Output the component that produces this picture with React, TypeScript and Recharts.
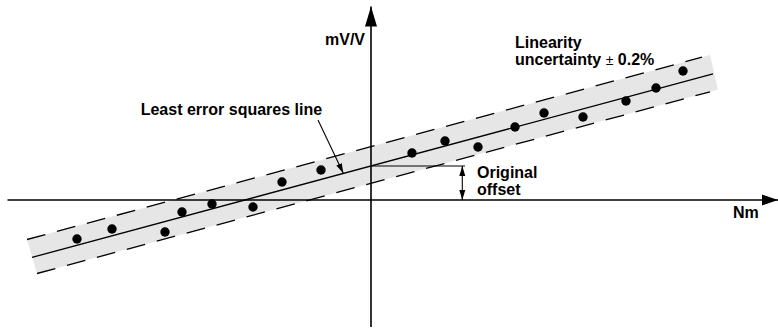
import React from "react";
import { ComposedChart, XAxis, YAxis, Line, Area, Scatter } from "recharts";

// Measured points (Nm vs mV/V, arbitrary units)
const pointX = [-29.4, -25.9, -20.6, -18.9, -15.9, -11.8, -8.9, -5.0, 4.1, 7.4, 10.7, 14.4, 17.3, 21.2, 25.5, 28.5, 31.2];
const pointY = [-3.9, -2.9, -3.2, -1.2, -0.4, -0.7, 1.8, 3.0, 4.7, 5.9, 5.3, 7.3, 8.7, 8.3, 9.9, 11.2, 12.9];

// Least error squares line
const fitX = [-33.9, 34.2];
const fitY = [-5.74, 12.62];

// Linearity uncertainty limits
const upperX = [-34.4, 33.1];
const upperY = [-3.95, 14.28];
const lowerX = [-33.4, 33.9];
const lowerY = [-7.35, 10.82];

// Uncertainty band (range)
const bandX = [-34.4, -33.4, 33.9, 34.7];
const bandLow = [-3.95, -7.35, 10.82, 11.04];
const bandHigh = [-3.95, -3.68, 14.49, 11.04];

// Axes
const xAxisX = [-36.35, 40.7];
const xAxisY = [0, 0];
const yAxisX = [0, 0];
const yAxisY = [-12.7, 19.35];

// Leader / offset lines
const leaderX = [-5.3, -2.77];
const leaderY = [8.0, 2.67];
const offsetLineX = [0, 9.4];
const offsetLineY = [3.4, 3.4];
const offsetArrowX = [9.13, 9.13];
const offsetArrowY = [3.4, 0];

// Annotations
const labelTexts = ["mV/V", "Linearity", "uncertainty ± 0.2%", "Least error squares line", "Original", "offset", "Nm"];
const labelX = [-0.6, 14.4, 14.4, -23.03, 10.6, 10.6, 36.2];
const labelY = [15.5, 15.2, 13.55, 8.5, 2.2, 0.5, -1.8];
const labelAnchor = ["end", "start", "start", "start", "start", "start", "start"];

const pts = (xs: number[], ys: number[]) => xs.map((x, i) => ({ x, y: ys[i] }));
const pointData = pts(pointX, pointY);
const bandData = bandX.map((x, i) => ({ x, range: [bandLow[i], bandHigh[i]] }));
const labelData = labelTexts.map((t, i) => ({ x: labelX[i], y: labelY[i], text: t, anchor: labelAnchor[i] }));

const FONT = "'Liberation Sans', Arial, Helvetica, sans-serif";

const renderLabel = (p: any) => {
  const payload = p.payload || {};
  const text: string = payload.text || "";
  if (text.includes("±")) {
    const [a, b] = text.split("±");
    return (
      <text x={p.cx} y={p.cy} textAnchor={payload.anchor} fontFamily={FONT} fontWeight="bold" fontSize={16} fill="#000">
        {a}
        <tspan fontWeight="normal" fontSize={14}>±</tspan>
        {b}
      </text>
    );
  }
  return (
    <text x={p.cx} y={p.cy} textAnchor={payload.anchor} fontFamily={FONT} fontWeight="bold" fontSize={16} fill="#000">
      {text}
    </text>
  );
};

const renderDot = (p: any) => <circle cx={p.cx} cy={p.cy} r={4.7} fill="#000" />;

export default function App() {
  return (
    <div style={{ position: "absolute", left: 0, top: 0, width: 778, height: 329, background: "#fff" }}>
      <svg width={0} height={0} style={{ position: "absolute" }}>
        <defs>
          <marker id="axisArrowX" markerUnits="userSpaceOnUse" markerWidth={17} markerHeight={12} refX={16} refY={6} orient="auto">
            <path d="M0,0.5 L16,6 L0,11.5 Z" fill="#000" />
          </marker>
          <marker id="axisArrowY" markerUnits="userSpaceOnUse" markerWidth={21} markerHeight={13} refX={20} refY={6.5} orient="auto">
            <path d="M0,0.5 L20,6.5 L0,12.5 Z" fill="#000" />
          </marker>
          <marker id="smallArrow" markerUnits="userSpaceOnUse" markerWidth={11} markerHeight={7} refX={10} refY={3.5} orient="auto-start-reverse">
            <path d="M0,0.5 L10,3.5 L0,6.5 Z" fill="#000" />
          </marker>
        </defs>
      </svg>
      <ComposedChart width={778} height={329} margin={{ top: 0, right: 0, bottom: 0, left: 0 }}>
        <XAxis type="number" dataKey="x" domain={[-37.1, 40.7]} allowDataOverflow hide />
        <YAxis type="number" domain={[-12.9, 20.0]} allowDataOverflow hide />
        <Area data={bandData} dataKey="range" type="linear" stroke="none" fill="#e6e6e6" fillOpacity={1} isAnimationActive={false} activeDot={false} dot={false} />
        <Line data={pts(upperX, upperY)} dataKey="y" type="linear" stroke="#000" strokeWidth={1.3} strokeDasharray="19 12" dot={false} activeDot={false} isAnimationActive={false} />
        <Line data={pts(lowerX, lowerY)} dataKey="y" type="linear" stroke="#000" strokeWidth={1.3} strokeDasharray="19 12" dot={false} activeDot={false} isAnimationActive={false} />
        <Line data={pts(fitX, fitY)} dataKey="y" type="linear" stroke="#000" strokeWidth={1.3} dot={false} activeDot={false} isAnimationActive={false} />
        <Line data={pts(xAxisX, xAxisY)} dataKey="y" type="linear" stroke="#000" strokeWidth={1.6} dot={false} activeDot={false} isAnimationActive={false} markerEnd="url(#axisArrowX)" />
        <Line data={pts(yAxisX, yAxisY)} dataKey="y" type="linear" stroke="#000" strokeWidth={1.6} dot={false} activeDot={false} isAnimationActive={false} markerEnd="url(#axisArrowY)" />
        <Line data={pts(leaderX, leaderY)} dataKey="y" type="linear" stroke="#000" strokeWidth={1.1} dot={false} activeDot={false} isAnimationActive={false} markerEnd="url(#smallArrow)" />
        <Line data={pts(offsetLineX, offsetLineY)} dataKey="y" type="linear" stroke="#000" strokeWidth={1.1} dot={false} activeDot={false} isAnimationActive={false} />
        <Line data={pts(offsetArrowX, offsetArrowY)} dataKey="y" type="linear" stroke="#000" strokeWidth={1.1} dot={false} activeDot={false} isAnimationActive={false} markerStart="url(#smallArrow)" markerEnd="url(#smallArrow)" />
        <Scatter data={pointData} dataKey="y" shape={renderDot} isAnimationActive={false} />
        <Scatter data={labelData} dataKey="y" shape={renderLabel} isAnimationActive={false} />
      </ComposedChart>
    </div>
  );
}
